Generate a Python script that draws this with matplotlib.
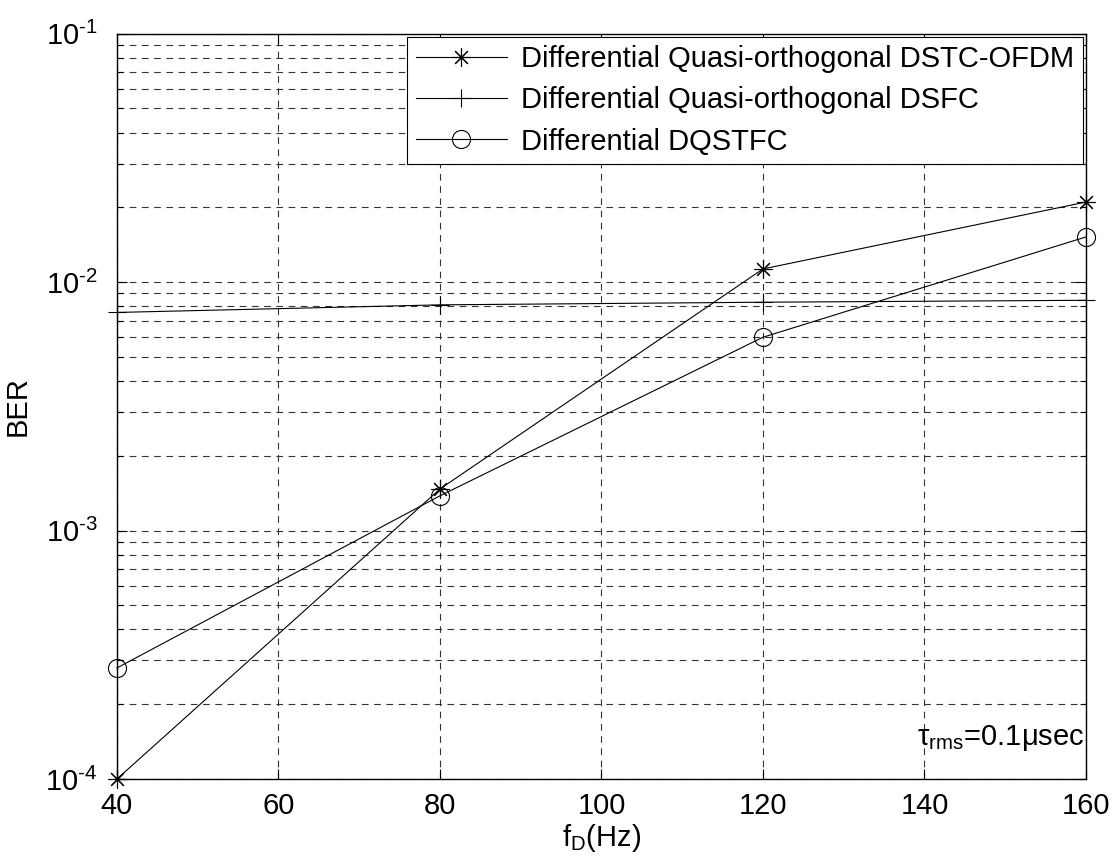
import matplotlib
matplotlib.use("Agg")
import matplotlib.pyplot as plt
from matplotlib.ticker import FixedLocator, FixedFormatter, LogLocator, NullFormatter

plt.rcParams['font.family'] = ['Liberation Sans', 'DejaVu Sans']
plt.rcParams['mathtext.fontset'] = 'custom'
plt.rcParams['mathtext.rm'] = 'Liberation Sans'
plt.rcParams['mathtext.it'] = 'Liberation Sans:italic'
plt.rcParams['mathtext.default'] = 'regular'

# Doppler frequency (Hz)
fd = [40, 80, 120, 160]

# BER for each scheme
ber_dstc_ofdm = [1.0e-4, 1.47e-3, 1.13e-2, 2.1e-2]
ber_dsfc = [7.55e-3, 8.1e-3, 8.3e-3, 8.45e-3]
ber_dqstfc = [2.8e-4, 1.38e-3, 6.0e-3, 1.52e-2]

labels = ['Differential Quasi-orthogonal DSTC-OFDM',
          'Differential Quasi-orthogonal DSFC',
          'Differential DQSTFC']

xticks = [40, 60, 80, 100, 120, 140, 160]
yticks = [1e-4, 1e-3, 1e-2, 1e-1]
ytick_labels = ['10$^{\u2010' + e + '}$' for e in ['4', '3', '2', '1']]

FS = 21

fig = plt.figure(figsize=(11.17, 8.63), dpi=100)
ax = fig.add_axes([0.1047, 0.0973, 0.8675, 0.8637])

lw = 0.8
ms = 13
ax.semilogy(fd, ber_dstc_ofdm, color='k', lw=lw, marker=(8, 2, 0), ms=ms,
            mew=lw, label=labels[0], clip_on=False, zorder=3)
ax.semilogy(fd, ber_dsfc, color='k', lw=lw, marker='+', ms=ms,
            mew=lw, label=labels[1], clip_on=False, zorder=3)
ax.semilogy(fd, ber_dqstfc, color='k', lw=lw, marker='o', ms=ms,
            mfc='none', mew=lw, label=labels[2], clip_on=False, zorder=3)

ax.set_xlim(40, 160)
ax.set_ylim(1e-4, 1e-1)
ax.xaxis.set_major_locator(FixedLocator(xticks))
ax.yaxis.set_major_locator(FixedLocator(yticks))
ax.yaxis.set_major_formatter(FixedFormatter(ytick_labels))
ax.yaxis.set_minor_locator(LogLocator(base=10, subs=range(2, 10), numticks=20))
ax.yaxis.set_minor_formatter(NullFormatter())

ax.tick_params(which='both', direction='in', top=True, right=True,
               labelsize=FS, width=0.8, colors='k')
ax.tick_params(which='major', length=7)
ax.tick_params(which='minor', length=4)
ax.tick_params(axis='x', which='major', pad=9)
ax.tick_params(axis='y', which='major', pad=14)

grid_kw = dict(color='0.2', linestyle=(0, (6, 5)), linewidth=0.8)
ax.grid(True, which='major', axis='both', **grid_kw)
ax.grid(True, which='minor', axis='y', **grid_kw)
ax.set_axisbelow(True)

for s in ax.spines.values():
    s.set_linewidth(1.0)
    s.set_color('k')

ax.set_xlabel('f$_D$(Hz)', fontsize=FS, labelpad=2)
ax.set_ylabel('BER', fontsize=FS)
ax.yaxis.set_label_coords(-0.088, 0.5)

ax.text(0.998, 0.035, r'$\tau_{rms}$=0.1$\mu$sec', transform=ax.transAxes,
        ha='right', va='bottom', fontsize=FS)

leg = ax.legend(loc='upper right', fontsize=FS, fancybox=False,
                framealpha=1, edgecolor='k', borderaxespad=0.1,
                handlelength=3.1, borderpad=0.3, labelspacing=0.45,
                handletextpad=0.5)
leg.get_frame().set_linewidth(0.8)

fig.savefig('out.png', dpi=100)
